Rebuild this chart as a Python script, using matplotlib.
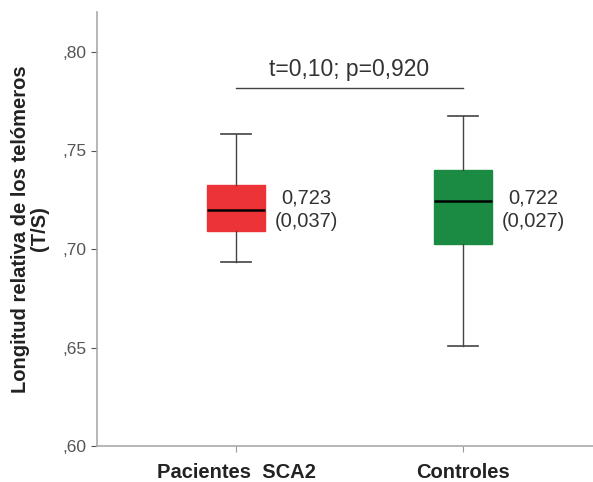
import matplotlib
matplotlib.use("Agg")
import matplotlib.pyplot as plt
from matplotlib.ticker import FuncFormatter

plt.rcParams['font.family'] = ['Liberation Sans', 'DejaVu Sans']

categories = ["Pacientes  SCA2", "Controles"]
whislo = [0.6934, 0.6508]
q1 = [0.7090, 0.7025]
med = [0.7198, 0.7244]
q3 = [0.7325, 0.7400]
whishi = [0.7584, 0.7675]
colors = ["#ec3337", "#1b8a43"]
means_txt = ["0,723\n(0,037)", "0,722\n(0,027)"]
stat_txt = "t=0,10; p=0,920"
yticks = [0.60, 0.65, 0.70, 0.75, 0.80]

fig = plt.figure(figsize=(5.93, 4.82), dpi=100)
ax = fig.add_axes([97/593, 36/482, 496/593, 434/482])

stats = []
for i in range(2):
    stats.append(dict(whislo=whislo[i], q1=q1[i], med=med[i], q3=q3[i], whishi=whishi[i], fliers=[]))
positions = [1, 2]
bp = ax.bxp(stats, positions=positions, widths=0.255, patch_artist=True, showfliers=False,
            boxprops=dict(linewidth=1.0, edgecolor="#333333"),
            medianprops=dict(color="black", linewidth=1.8),
            whiskerprops=dict(color="#444444", linewidth=1.0),
            capprops=dict(color="#444444", linewidth=1.2),
            capwidths=0.13)
for patch, c in zip(bp['boxes'], colors):
    patch.set_facecolor(c)
    patch.set_edgecolor(c)

for i in range(2):
    ax.text(positions[i] + 0.172, 0.7198, means_txt[i], ha='left', va='center',
            multialignment='center', fontsize=14.5, color="#333333", linespacing=1.3)

ax.plot([1, 2], [0.7817, 0.7817], color="#444444", linewidth=1.0)
ax.text(1.5, 0.7852, stat_txt, ha='center', va='bottom', fontsize=16.5, color="#333333")

ax.set_xlim(1 - 139/227, 2 + 130/227)
ax.set_ylim(0.60, 0.6 + 434/1970)
ax.set_yticks(yticks)
ax.yaxis.set_major_formatter(FuncFormatter(lambda v, p: ("%.2f" % v).lstrip("0").replace(".", ",")))
ax.set_xticks(positions)
ax.set_xticklabels(categories, fontweight='bold', fontsize=14.5, color="#222222")
ax.tick_params(axis='y', labelsize=12.5, colors="#555555", length=4, width=0.8)
ax.tick_params(axis='x', length=4, width=0.8, colors="#999999", labelcolor="#222222", pad=8)
for sp in ['top', 'right']:
    ax.spines[sp].set_visible(False)
for sp in ['left', 'bottom']:
    ax.spines[sp].set_color("#aaaaaa")
    ax.spines[sp].set_linewidth(1.2)
ax.set_ylabel("Longitud relativa de los telómeros\n(T/S)", fontweight='bold', fontsize=14.5,
              color="#222222", labelpad=10, linespacing=0.95)

fig.savefig("out.png", dpi=100)
